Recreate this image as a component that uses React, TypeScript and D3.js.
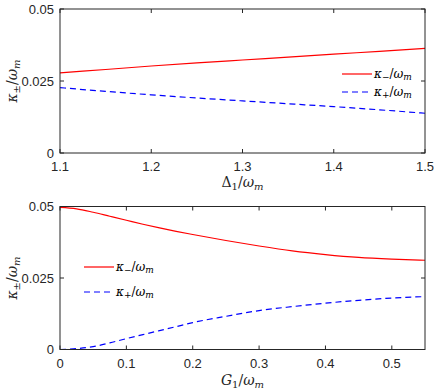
import { useEffect, useRef } from "react";
import * as d3 from "d3";

// top panel: kappa vs Delta1/omega_m
const delta = [1.1, 1.15, 1.2, 1.25, 1.3, 1.35, 1.4, 1.45, 1.5];
const kMinusTop = [0.0278, 0.029, 0.0302, 0.0313, 0.0323, 0.0333, 0.0343, 0.0353, 0.0363];
const kPlusTop = [0.0227, 0.0214, 0.0202, 0.0191, 0.0181, 0.0171, 0.0161, 0.015, 0.0138];

// bottom panel: kappa vs G1/omega_m
const gVals = [0, 0.025, 0.05, 0.075, 0.1, 0.125, 0.15, 0.175, 0.2, 0.25, 0.3, 0.35, 0.4, 0.45, 0.5, 0.55];
const kMinusBot = [0.0497, 0.0492, 0.048, 0.0466, 0.0452, 0.0438, 0.0425, 0.0413, 0.0402, 0.0381, 0.0362, 0.0345, 0.0332, 0.0322, 0.0316, 0.0312];
const kPlusBot = [0, 0.0003, 0.001, 0.0023, 0.0038, 0.0052, 0.0066, 0.008, 0.0094, 0.0116, 0.0136, 0.015, 0.0162, 0.0172, 0.018, 0.0185];

const topTicks = [1.1, 1.2, 1.3, 1.4, 1.5];
const botTicks = [0, 0.1, 0.2, 0.3, 0.4, 0.5];
const yTicks = [0, 0.025, 0.05];

export default function App() {
  const svgRef = useRef<SVGSVGElement>(null);

  useEffect(() => {
    const svg = d3.select(svgRef.current);
    svg.selectAll("*").remove();

    const left = 60, right = 425;
    const axisColor = "#262626";

    function panel(opts: any) {
      const { xs, minus, plus, xDomain, xTicks, top, bottom, legendX, legendY, xLabel, xLabelY } = opts;
      const x = d3.scaleLinear().domain(xDomain).range([left, right]);
      const y = d3.scaleLinear().domain([0, 0.05]).range([bottom, top]);
      const g = svg.append("g");

      const line = d3.line<number>().x((_, i) => x(xs[i])).y((d) => y(d)).curve(d3.curveMonotoneX);
      g.append("path").attr("d", line(minus)).attr("fill", "none").attr("stroke", "#ff0000").attr("stroke-width", 1.2);
      g.append("path").attr("d", line(plus)).attr("fill", "none").attr("stroke", "#0000ff").attr("stroke-width", 1.2).attr("stroke-dasharray", "6,4");

      // box
      g.append("rect").attr("x", left).attr("y", top).attr("width", right - left).attr("height", bottom - top)
        .attr("fill", "none").attr("stroke", axisColor).attr("stroke-width", 1);

      const tl = 4;
      xTicks.forEach((t: number) => {
        g.append("line").attr("x1", x(t)).attr("x2", x(t)).attr("y1", bottom).attr("y2", bottom - tl).attr("stroke", axisColor);
        g.append("line").attr("x1", x(t)).attr("x2", x(t)).attr("y1", top).attr("y2", top + tl).attr("stroke", axisColor);
        g.append("text").attr("x", x(t)).attr("y", bottom + 18).attr("text-anchor", "middle")
          .attr("font-family", "Liberation Sans, Arial, sans-serif").attr("font-size", 13).attr("fill", axisColor)
          .text(d3.format("~g")(t));
      });
      yTicks.forEach((t) => {
        g.append("line").attr("x1", left).attr("x2", left + tl).attr("y1", y(t)).attr("y2", y(t)).attr("stroke", axisColor);
        g.append("line").attr("x1", right).attr("x2", right - tl).attr("y1", y(t)).attr("y2", y(t)).attr("stroke", axisColor);
        g.append("text").attr("x", left - 6).attr("y", y(t) + 4.5).attr("text-anchor", "end")
          .attr("font-family", "Liberation Sans, Arial, sans-serif").attr("font-size", 13).attr("fill", axisColor)
          .text(d3.format("~g")(t));
      });

      // y label
      const yl = g.append("text").attr("transform", `translate(17,${(top + bottom) / 2}) rotate(-90)`)
        .attr("text-anchor", "middle").attr("font-family", "DejaVu Serif, serif").attr("font-style", "italic")
        .attr("font-size", 14).attr("fill", axisColor);
      yl.append("tspan").text("κ");
      yl.append("tspan").attr("font-size", 10).attr("dy", 3).attr("font-style", "normal").text("±");
      yl.append("tspan").attr("dy", -3).attr("font-style", "normal").text("/");
      yl.append("tspan").text("ω");
      yl.append("tspan").attr("font-size", 10).attr("dy", 3).text("m");

      // x label
      const xl = g.append("text").attr("x", (left + right) / 2).attr("y", xLabelY).attr("text-anchor", "middle")
        .attr("font-family", "DejaVu Serif, serif").attr("font-size", 14).attr("fill", axisColor);
      xl.append("tspan").attr("font-style", xLabel === "Δ" ? "normal" : "italic").text(xLabel);
      xl.append("tspan").attr("font-size", 10).attr("dy", 3).text("1");
      xl.append("tspan").attr("dy", -3).text("/");
      xl.append("tspan").attr("font-style", "italic").text("ω");
      xl.append("tspan").attr("font-size", 10).attr("dy", 3).attr("font-style", "italic").text("m");

      // legend
      const items = [
        { c: "#ff0000", dash: null, sub: "−", yy: legendY },
        { c: "#0000ff", dash: "6,4", sub: "+", yy: legendY + opts.legendGap },
      ];
      items.forEach((it) => {
        g.append("line").attr("x1", legendX).attr("x2", legendX + 30).attr("y1", it.yy).attr("y2", it.yy)
          .attr("stroke", it.c).attr("stroke-width", 1.2).attr("stroke-dasharray", it.dash);
        const t = g.append("text").attr("x", legendX + 32).attr("y", it.yy + 4)
          .attr("font-family", "DejaVu Serif, serif").attr("font-style", "italic").attr("font-size", 12).attr("fill", "#000");
        t.append("tspan").text("κ");
        t.append("tspan").attr("font-size", 9).attr("dy", 2).attr("font-style", "normal").text(it.sub);
        t.append("tspan").attr("dy", -2).attr("font-style", "normal").text("/");
        t.append("tspan").text("ω");
        t.append("tspan").attr("font-size", 9).attr("dy", 2).text("m");
      });
    }

    panel({ xs: delta, minus: kMinusTop, plus: kPlusTop, xDomain: [1.1, 1.5], xTicks: topTicks, top: 9, bottom: 153,
      legendX: 342, legendY: 74, legendGap: 18, xLabel: "Δ", xLabelY: 187 });
    panel({ xs: gVals, minus: kMinusBot, plus: kPlusBot, xDomain: [0, 0.55], xTicks: botTicks, top: 206.5, bottom: 349.5,
      legendX: 84, legendY: 267, legendGap: 25, xLabel: "G", xLabelY: 385 });
  }, []);

  return (
    <svg ref={svgRef} width={436} height={390} style={{ position: "absolute", left: 0, top: 0, background: "#fff" }} />
  );
}
